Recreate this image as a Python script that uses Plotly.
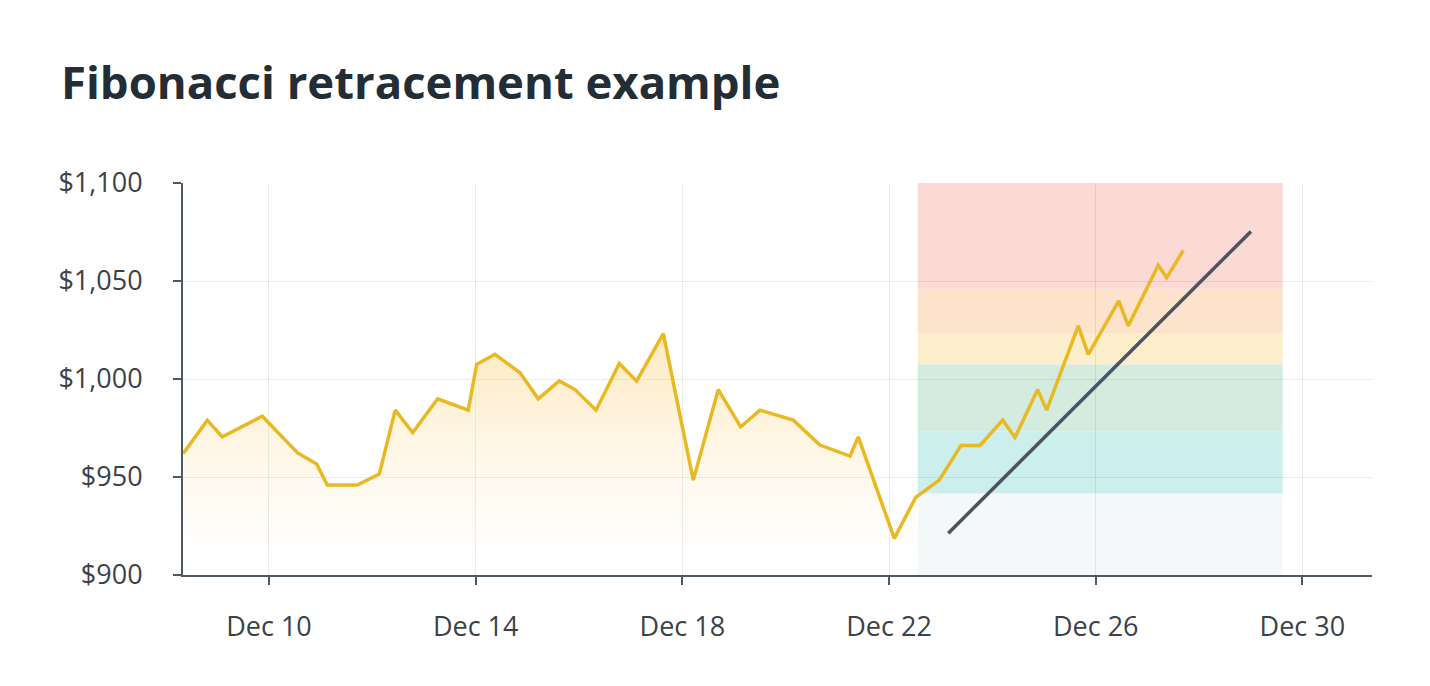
import plotly.graph_objects as go

# ---- data ----
dates = [
    "2023-12-08 08:11", "2023-12-08 19:21", "2023-12-09 02:18", "2023-12-09 20:53",
    "2023-12-10 13:19", "2023-12-10 22:09", "2023-12-11 03:04", "2023-12-11 17:01",
    "2023-12-12 03:14", "2023-12-12 10:39", "2023-12-12 18:45", "2023-12-13 06:22",
    "2023-12-13 20:34", "2023-12-14 00:29", "2023-12-14 08:59", "2023-12-14 20:36",
    "2023-12-15 05:05", "2023-12-15 14:50", "2023-12-15 22:08", "2023-12-16 07:54",
    "2023-12-16 18:43", "2023-12-17 02:47", "2023-12-17 15:09", "2023-12-18 05:05",
    "2023-12-18 16:42", "2023-12-19 03:06", "2023-12-19 12:04", "2023-12-20 03:32",
    "2023-12-20 15:56", "2023-12-21 05:53", "2023-12-21 09:43", "2023-12-22 02:27",
    "2023-12-22 12:23", "2023-12-22 23:21", "2023-12-23 09:26", "2023-12-23 18:16",
    "2023-12-24 04:48", "2023-12-24 10:31", "2023-12-24 21:03", "2023-12-25 01:13",
    "2023-12-25 15:55", "2023-12-25 20:33", "2023-12-26 10:41", "2023-12-26 15:07",
    "2023-12-27 05:04", "2023-12-27 08:58", "2023-12-27 16:41",
]
prices = [
    962.0, 979.0, 970.5, 981.0,
    962.3, 956.6, 945.9, 945.9,
    951.5, 984.1, 972.7, 989.9,
    984.1, 1007.5, 1012.6, 1003.2,
    989.9, 999.0, 994.6, 984.1,
    1007.9, 998.9, 1023.2, 948.4,
    994.6, 975.6, 984.1, 979.0,
    966.3, 960.7, 970.5, 918.7,
    939.6, 948.4, 966.1, 966.1,
    979.0, 970.2, 994.6, 984.1,
    1027.1, 1012.6, 1039.8, 1027.1,
    1058.0, 1051.7, 1065.6,
]

trend_dates = ["2023-12-23 03:32", "2023-12-29 00:07"]
trend_prices = [921.3, 1075.3]

zone_start = "2023-12-22 13:19"
zone_end = "2023-12-29 14:51"
zone_levels = [900, 941.6, 973.4, 1007.5, 1023.2, 1046.1, 1100]
zone_colors = ["#f5f8f9", "#ccefee", "#d3ecdf", "#fdeecb", "#fde2cc", "#fbd9d5"]

x_range = ["2023-12-08 08:04", "2023-12-31 08:20"]
y_tickvals = [900, 950, 1000, 1050, 1100]
y_ticktext = ["$900", "$950", "$1,000", "$1,050", "$1,100"]

title_text = "Fibonacci retracement example"

# ---- figure ----
fig = go.Figure()

# shaded area only left of the Fibonacci zones
fill_x = [d for d in dates if d < zone_start]
fill_y = prices[:len(fill_x)]
fig.add_trace(go.Scatter(
    x=fill_x, y=fill_y, mode="lines",
    line=dict(width=0),
    fill="tozeroy",
    fillgradient=dict(
        type="vertical",
        colorscale=[[0, "rgba(251,205,110,0)"], [0.45, "rgba(251,205,110,0.16)"],
                    [1, "rgba(251,205,110,0.44)"]],
        start=912, stop=1025,
    ),
    hoverinfo="skip", showlegend=False,
))

fig.add_trace(go.Scatter(
    x=dates, y=prices, mode="lines",
    line=dict(color="#e8b923", width=3.5),
    hoverinfo="skip", showlegend=False,
))

fig.add_trace(go.Scatter(
    x=trend_dates, y=trend_prices, mode="lines",
    line=dict(color="#4a5561", width=3.5),
    hoverinfo="skip", showlegend=False,
))

for lo, hi, col in zip(zone_levels[:-1], zone_levels[1:], zone_colors):
    fig.add_shape(type="rect", xref="x", yref="y",
                  x0=zone_start, x1=zone_end, y0=lo, y1=hi,
                  fillcolor=col, line=dict(width=0), layer="below")

axis_col = "#4d5963"
grid_col = "rgba(0,0,0,0.075)"
tick_font = dict(family="Open Sans", size=27, color="#3b4248")

fig.update_layout(
    width=1430, height=686,
    margin=dict(l=183, r=58, t=183, b=111),
    paper_bgcolor="white", plot_bgcolor="white",
    title=dict(text="<b>" + title_text + "</b>",
               font=dict(family="Open Sans", size=45.5, color="#232d35"),
               x=61 / 1430, xanchor="left", xref="container",
               y=1 - 83 / 686, yanchor="middle", yref="container"),
    xaxis=dict(
        type="date", range=x_range,
        tick0="2023-12-10", dtick=4 * 86400000, tickformat="%b %-d",
        showgrid=True, gridcolor=grid_col, gridwidth=1,
        showline=True, linecolor=axis_col, linewidth=2,
        ticks="outside", ticklen=8, tickcolor=axis_col, tickwidth=2,
        tickfont=tick_font, ticklabelstandoff=19,
        zeroline=False,
    ),
    yaxis=dict(
        range=[900, 1100], tickmode="array",
        tickvals=y_tickvals, ticktext=y_ticktext,
        showgrid=True, gridcolor=grid_col, gridwidth=1,
        showline=True, linecolor=axis_col, linewidth=2,
        ticks="outside", ticklen=8, tickcolor=axis_col, tickwidth=2,
        tickfont=tick_font, ticklabelstandoff=25,
        zeroline=False,
    ),
)

fig.write_html("out.html")
